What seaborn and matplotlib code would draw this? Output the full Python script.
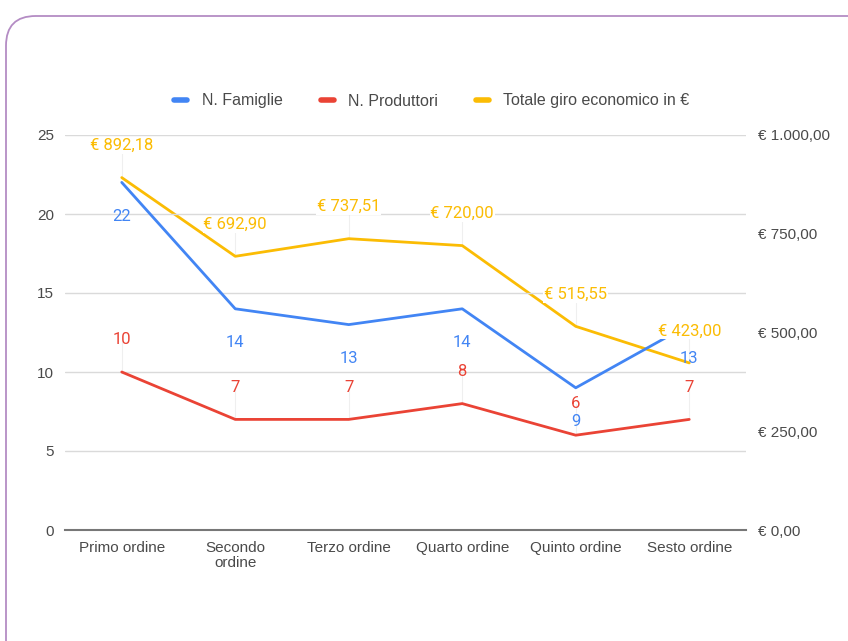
import matplotlib
matplotlib.use("Agg")
import matplotlib.pyplot as plt
from matplotlib.lines import Line2D
from matplotlib.patches import FancyBboxPatch
import pandas as pd
import seaborn as sb

# data
ordini = ["Primo ordine", "Secondo\nordine", "Terzo ordine", "Quarto ordine", "Quinto ordine", "Sesto ordine"]
famiglie = [22, 14, 13, 14, 9, 13]
produttori = [10, 7, 7, 8, 6, 7]
giro = [892.18, 692.90, 737.51, 720.00, 515.55, 423.00]
giro_labels = ["€ 892,18", "€ 692,90", "€ 737,51", "€ 720,00", "€ 515,55", "€ 423,00"]
left_ticks = [0, 5, 10, 15, 20, 25]
right_ticks = [0, 250, 500, 750, 1000]
right_ticklabels = ["€ 0,00", "€ 250,00", "€ 500,00", "€ 750,00", "€ 1.000,00"]

blue = "#4285F4"
red = "#EA4335"
yellow = "#FBBC04"
textcolor = "#4a4a4a"
gridcolor = "#dadada"
tickfont = ['Liberation Sans', 'DejaVu Sans']

sb.set_style("white")
plt.rcParams['font.family'] = ['Roboto', 'DejaVu Sans']

df = pd.DataFrame({"ordine": ordini, "famiglie": famiglie, "produttori": produttori, "giro": giro})
df["pos"] = range(len(df))

fig = plt.figure(figsize=(8.48, 6.41), dpi=100)
fig.patch.set_facecolor("white")

# purple frame with rounded corner
frame = FancyBboxPatch((6/848, -0.05), 1.2, (641-16)/641 + 0.05,
                       boxstyle="round,pad=0,rounding_size=0.035",
                       transform=fig.transFigure, facecolor="none",
                       edgecolor="#b48cc4", linewidth=1.3, mutation_aspect=848/641)
fig.patches.append(frame)

ax = fig.add_axes([65/848, 1-530/641, 681/848, 395/641])
ax2 = ax.twinx()

# faint leader lines for labels
for i in df["pos"]:
    ax.plot([i, i], [produttori[i], produttori[i] + 2.0], color="#efefef", lw=0.8, zorder=1)
    ax2.plot([i, i], [giro[i], giro[i] + 80], color="#efefef", lw=0.8, zorder=1)

sb.lineplot(data=df, x="pos", y="giro", ax=ax2, color=yellow, linewidth=2, sort=False, zorder=3)
sb.lineplot(data=df, x="pos", y="famiglie", ax=ax, color=blue, linewidth=2, sort=False, zorder=3)
sb.lineplot(data=df, x="pos", y="produttori", ax=ax, color=red, linewidth=2, sort=False, zorder=3)

# data labels
for i in df["pos"]:
    ax.annotate(str(famiglie[i]), (i, famiglie[i]), xytext=(0, -34), textcoords="offset pixels",
                ha="center", va="center", color=blue, fontsize=12, zorder=5)
    ax.annotate(str(produttori[i]), (i, produttori[i]), xytext=(0, 32), textcoords="offset pixels",
                ha="center", va="center", color=red, fontsize=12, zorder=5)
    ax.annotate(giro_labels[i], (i, giro[i]), xycoords=ax2.transData, xytext=(0, 32),
                textcoords="offset pixels", ha="center", va="center", color=yellow, fontsize=12,
                zorder=6, bbox=dict(boxstyle="square,pad=0.05", fc="white", ec="none"))

ax.set_xlim(-0.5, 5.5)
ax.set_ylim(0, 25)
ax2.set_ylim(0, 1000)
ax.set_xticks(df["pos"])
ax.set_xticklabels(ordini, color=textcolor, fontsize=11, linespacing=1.1, family=tickfont)
ax.set_yticks(left_ticks)
ax.set_yticklabels([str(t) for t in left_ticks], color=textcolor, fontsize=11, family=tickfont)
ax2.set_yticks(right_ticks)
ax2.set_yticklabels(right_ticklabels, color=textcolor, fontsize=11, family=tickfont)
ax.tick_params(axis="both", length=0, pad=8)
ax2.tick_params(axis="y", length=0, pad=9)
ax.set_xlabel("")
ax.set_ylabel("")
ax2.set_ylabel("")

ax.grid(axis="y", color=gridcolor, linewidth=1)
ax.set_axisbelow(True)
for b in ['top', 'left', 'right']:
    ax.spines[b].set_visible(False)
    ax2.spines[b].set_visible(False)
ax2.spines['bottom'].set_visible(False)
ax.spines['bottom'].set_color("#777777")
ax.spines['bottom'].set_linewidth(1.5)
ax.set_zorder(ax2.get_zorder() + 1)
ax.patch.set_visible(False)

handles = [Line2D([0], [0], color=blue, lw=4),
           Line2D([0], [0], color=red, lw=4),
           Line2D([0], [0], color=yellow, lw=4)]
leg = fig.legend(handles, ["N. Famiglie", "N. Produttori", "Totale giro economico in €"],
                 loc="center", bbox_to_anchor=(432/848, 1-101/641), ncol=3, frameon=False,
                 handlelength=0.8, handletextpad=0.9, columnspacing=2.4,
                 labelcolor=textcolor, prop={'family': tickfont, 'size': 11.5})

plt.savefig("out.png", dpi=100)
